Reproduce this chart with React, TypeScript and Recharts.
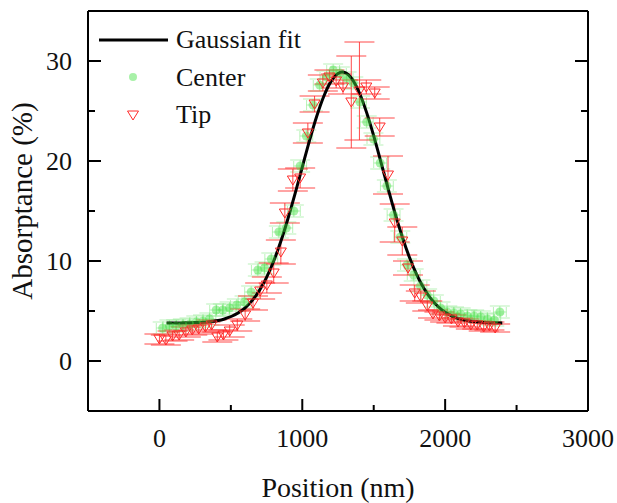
import React from 'react';
import { ComposedChart, Scatter, Line, XAxis, YAxis, ErrorBar, Legend } from 'recharts';

// ---------- data ----------
const fitX = [50, 150, 250, 350, 450, 550, 600, 650, 700, 750, 800, 850, 900, 950, 1000, 1050, 1100, 1150, 1200, 1250, 1280, 1300, 1350, 1400, 1450, 1500, 1550, 1600, 1650, 1700, 1750, 1800, 1850, 1900, 1950, 2000, 2050, 2150, 2250, 2350, 2400];
const fitY = [3.8, 3.81, 3.84, 3.93, 4.18, 4.79, 5.32, 6.06, 7.06, 8.36, 10.0, 11.97, 14.25, 16.76, 19.39, 22.01, 24.42, 26.45, 27.94, 28.76, 28.9, 28.84, 28.16, 26.8, 24.86, 22.51, 19.92, 17.28, 14.73, 12.4, 10.37, 8.66, 7.29, 6.23, 5.45, 4.88, 4.49, 4.05, 3.88, 3.82, 3.81];

const cenX = [23, 70, 117, 164, 211, 258, 305, 350, 397, 444, 491, 542, 596, 642, 689, 736, 783, 836, 888, 941, 985, 1028, 1075, 1122, 1169, 1216, 1263, 1310, 1357, 1404, 1451, 1498, 1545, 1592, 1639, 1686, 1733, 1780, 1827, 1874, 1921, 1968, 2015, 2062, 2109, 2156, 2203, 2250, 2297, 2344, 2383];
const cenY = [3.3, 3.5, 3.5, 3.6, 3.7, 3.9, 4.0, 4.2, 5.1, 5.1, 5.3, 5.6, 5.9, 6.9, 9.1, 9.3, 10.2, 12.9, 13.3, 15.0, 19.5, 22.5, 25.6, 27.6, 28.4, 29.1, 28.8, 28.3, 27.8, 25.9, 23.9, 22.2, 19.8, 17.5, 14.6, 12.4, 9.6, 8.6, 7.5, 6.6, 6.0, 5.3, 4.9, 4.8, 4.7, 4.5, 4.5, 4.4, 4.2, 4.1, 4.9];
const cenXErr = 45;
const cenYErr = 0.6;

const tipX = [0, 45, 92, 138, 185, 230, 275, 322, 365, 405, 448, 492, 545, 600, 655, 705, 752, 800, 850, 878, 934, 985, 1039, 1086, 1144, 1190, 1237, 1285, 1343, 1400, 1448, 1507, 1542, 1600, 1647, 1700, 1740, 1787, 1830, 1875, 1915, 1960, 2000, 2044, 2090, 2135, 2180, 2225, 2270, 2310, 2350];
const tipY = [2.2, 2.1, 2.5, 2.6, 2.9, 3.1, 3.2, 3.4, 3.6, 2.4, 2.6, 3.0, 3.6, 4.6, 5.8, 7.0, 7.6, 8.8, 10.9, 14.8, 18.1, 18.3, 22.8, 25.7, 27.8, 28.4, 28.0, 27.4, 25.9, 27.0, 27.4, 26.8, 23.4, 18.6, 13.8, 12.0, 9.3, 6.8, 6.4, 5.5, 4.7, 4.5, 4.3, 4.2, 3.9, 3.8, 3.6, 3.6, 3.4, 3.5, 3.3];
const tipErr = [0.5, 0.5, 0.5, 0.5, 0.5, 0.5, 0.5, 0.5, 0.5, 0.5, 0.5, 0.6, 0.6, 0.6, 0.7, 0.8, 0.8, 1.0, 1.2, 1.0, 1.1, 1.0, 1.0, 0.8, 0.8, 0.7, 0.7, 0.7, 4.6, 4.9, 0.7, 0.6, 0.9, 1.9, 1.9, 1.4, 0.7, 0.8, 0.6, 0.5, 0.4, 0.4, 0.4, 0.4, 0.4, 0.4, 0.4, 0.4, 0.4, 0.4, 0.4];

const xTicks = [0, 500, 1000, 1500, 2000, 2500, 3000];
const xMajor = [0, 1000, 2000, 3000];
const yTicks = [0, 5, 10, 15, 20, 25, 30];
const yMajor = [0, 10, 20, 30];
const xDomain = [-500, 3000];
const yDomain = [-5, 35];

const seriesNames = ['Gaussian fit', 'Center', 'Tip'];
const xTitle = 'Position (nm)';
const yTitle = 'Absorptance (%)';

// ---------- derived tables ----------
const fitData = fitX.map((x, i) => ({ x, y: fitY[i] }));
const cenData = cenX.map((x, i) => ({ x, y: cenY[i], ex: cenXErr, ey: cenYErr }));
const tipData = tipX.map((x, i) => ({ x, y: tipY[i], err: tipErr[i] }));

// ---------- style ----------
const FONT = 'Liberation Serif, DejaVu Serif, serif';
const TICK_FS = 26;
const MAJ = 13;
const MIN = 7;
const XMARGIN = 18;
const YMARGIN = 16;
const RED = '#ff2a2a';
const GREEN = '#3ee03e';
const txtStyle = { fontFamily: FONT } as React.CSSProperties;

const LeftTick = (props: any) => {
  const { x, y, payload } = props;
  const v = payload.value;
  const major = yMajor.includes(v);
  const ax = x + YMARGIN;
  return (
    <g>
      <line x1={ax} x2={ax + (major ? MAJ : MIN)} y1={y} y2={y} stroke="#000" strokeWidth={2} />
      {major && (
        <text x={x} y={y} dy="0.36em" textAnchor="end" style={txtStyle} fontSize={TICK_FS} fill="#111">
          {v}
        </text>
      )}
    </g>
  );
};

const RightTick = (props: any) => {
  const { x, y, payload } = props;
  const major = yMajor.includes(payload.value);
  return <line x1={x} x2={x - (major ? MAJ : MIN)} y1={y} y2={y} stroke="#000" strokeWidth={2} />;
};

const BottomTick = (props: any) => {
  const { x, y, payload } = props;
  const v = payload.value;
  const major = xMajor.includes(v);
  const ay = y - XMARGIN;
  return (
    <g>
      <line x1={x} x2={x} y1={ay} y2={ay - (major ? MAJ - 1 : MIN - 1)} stroke="#000" strokeWidth={2} />
      {major && (
        <text x={x} y={y} dy="0.71em" textAnchor="middle" style={txtStyle} fontSize={TICK_FS} fill="#111">
          {v}
        </text>
      )}
    </g>
  );
};

const TopTick = (props: any) => {
  const { x, y, payload } = props;
  const major = xMajor.includes(payload.value);
  return <line x1={x} x2={x} y1={y} y2={y + (major ? MAJ - 1 : MIN - 1)} stroke="#000" strokeWidth={2} />;
};

const Triangle = (props: any) => {
  const { cx, cy } = props;
  if (cx == null || cy == null) return null;
  return (
    <path
      d={`M${cx - 5.5},${cy - 4} L${cx + 5.5},${cy - 4} L${cx},${cy + 5} Z`}
      fill="none"
      stroke={RED}
      strokeWidth={1}
    />
  );
};

const Dot = (props: any) => {
  const { cx, cy } = props;
  if (cx == null || cy == null) return null;
  return <circle cx={cx} cy={cy} r={4.5} fill={GREEN} fillOpacity={0.45} />;
};

const LegendBox = () => (
  <svg width={260} height={120} style={{ overflow: 'visible', display: 'block' }}>
    <line x1={4} x2={73} y1={22} y2={22} stroke="#000" strokeWidth={3} />
    <text x={81} y={30} style={txtStyle} fontSize={26} fill="#111">{seriesNames[0]}</text>
    <circle cx={38} cy={59} r={4} fill={GREEN} fillOpacity={0.45} />
    <text x={81} y={68} style={txtStyle} fontSize={26} fill="#111">{seriesNames[1]}</text>
    <path d={`M${38 - 5.5},${97 - 4} L${38 + 5.5},${97 - 4} L38,${97 + 5} Z`} fill="none" stroke={RED} strokeWidth={1} />
    <text x={81} y={105} style={txtStyle} fontSize={26} fill="#111">{seriesNames[2]}</text>
  </svg>
);

export default function App() {
  return (
    <div style={{ position: 'absolute', left: 0, top: 0, width: 617, height: 503, background: '#fff' }}>
      <ComposedChart width={617} height={503} margin={{ top: 0, right: 0, bottom: 0, left: 0 }}>
        <XAxis
          xAxisId="main"
          dataKey="x"
          type="number"
          domain={xDomain}
          allowDataOverflow
          ticks={xTicks}
          interval={0}
          height={92}
          tickSize={0}
          tickMargin={XMARGIN}
          tickLine={false}
          axisLine={{ stroke: '#000', strokeWidth: 2 }}
          tick={<BottomTick />}
        />
        <XAxis
          xAxisId="top"
          orientation="top"
          type="number"
          domain={xDomain}
          allowDataOverflow
          ticks={xTicks}
          interval={0}
          height={11}
          tickSize={0}
          tickMargin={0}
          tickLine={false}
          axisLine={{ stroke: '#000', strokeWidth: 2 }}
          tick={<TopTick />}
        />
        <YAxis
          yAxisId="main"
          dataKey="y"
          type="number"
          domain={yDomain}
          allowDataOverflow
          ticks={yTicks}
          interval={0}
          width={88}
          tickSize={0}
          tickMargin={YMARGIN}
          tickLine={false}
          axisLine={{ stroke: '#000', strokeWidth: 2 }}
          tick={<LeftTick />}
        />
        <YAxis
          yAxisId="right"
          orientation="right"
          type="number"
          domain={yDomain}
          allowDataOverflow
          ticks={yTicks}
          interval={0}
          width={29}
          tickSize={0}
          tickMargin={0}
          tickLine={false}
          axisLine={{ stroke: '#000', strokeWidth: 2 }}
          tick={<RightTick />}
        />
        <Scatter
          name={seriesNames[1]}
          data={cenData}
          xAxisId="main"
          yAxisId="main"
          shape={<Dot />}
          isAnimationActive={false}
        >
          <ErrorBar dataKey="ex" direction="x" width={5} stroke="#7fe87f" strokeOpacity={0.55} strokeWidth={1} isAnimationActive={false} />
          <ErrorBar dataKey="ey" direction="y" width={10} stroke="#7fe87f" strokeOpacity={0.55} strokeWidth={1} isAnimationActive={false} />
        </Scatter>
        <Scatter
          name={seriesNames[2]}
          data={tipData}
          xAxisId="main"
          yAxisId="main"
          shape={<Triangle />}
          isAnimationActive={false}
        >
          <ErrorBar dataKey="err" direction="y" width={15} stroke={RED} strokeOpacity={0.85} strokeWidth={1} isAnimationActive={false} />
        </Scatter>
        <Line
          name={seriesNames[0]}
          data={fitData}
          xAxisId="main"
          yAxisId="main"
          dataKey="y"
          type="monotone"
          stroke="#000"
          strokeWidth={3}
          dot={false}
          activeDot={false}
          isAnimationActive={false}
        />
        <Legend
          layout="vertical"
          align="center"
          verticalAlign="middle"
          wrapperStyle={{ position: 'absolute', left: 95, top: 18, width: 260, height: 120 }}
          content={() => <LegendBox />}
        />
        <text x={338} y={497} textAnchor="middle" style={txtStyle} fontSize={28} fill="#111">
          {xTitle}
        </text>
        <text x={32} y={201} textAnchor="middle" style={txtStyle} fontSize={29} fill="#111" transform="rotate(-90, 32, 201)">
          {yTitle}
        </text>
      </ComposedChart>
    </div>
  );
}
